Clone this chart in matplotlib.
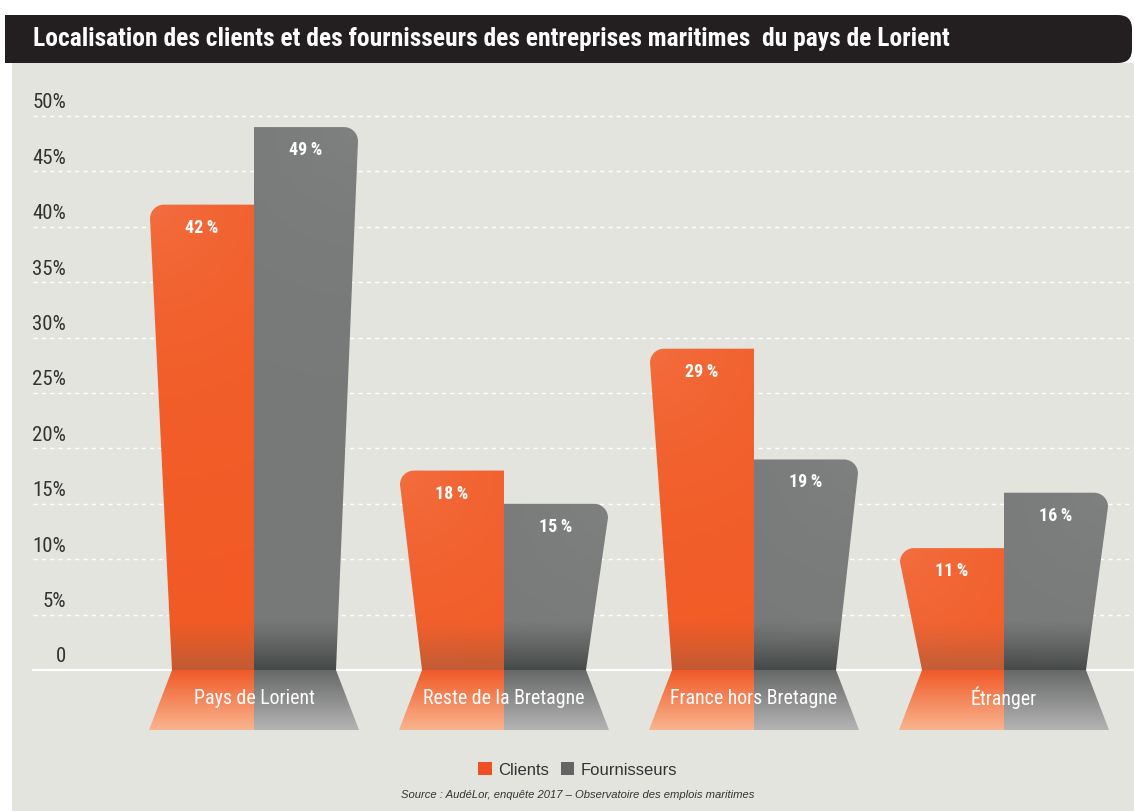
import numpy as np
import matplotlib.pyplot as plt
from matplotlib.patches import Polygon, Rectangle, FancyBboxPatch, Patch
from matplotlib.transforms import Affine2D
from matplotlib.colors import to_rgb

W, H = 1134, 811

categories = ["Pays de Lorient", "Reste de la Bretagne", "France hors Bretagne", "Étranger"]
clients = [42, 18, 29, 11]
fournisseurs = [49, 15, 19, 16]
series_names = ["Clients", "Fournisseurs"]
yticks = [0, 5, 10, 15, 20, 25, 30, 35, 40, 45, 50]
ytick_labels = ["0", "5%", "10%", "15%", "20%", "25%", "30%", "35%", "40%", "45%", "50%"]
title = "Localisation des clients et des fournisseurs des entreprises maritimes  du pays de Lorient"
source = "Source : AudéLor, enquête 2017 – Observatoire des emplois maritimes"

BG = "#e4e4df"
ORANGE = "#f15a25"
GREY = "#777878"
NARROW = ["Roboto Condensed", "Archivo Narrow", "IBM Plex Sans Condensed", "DejaVu Sans"]
PLAIN = ["Liberation Sans", "DejaVu Sans"]

# layout in pixels (measured on the reference)
PANEL_TOP = 63
BASE_PX = 670      # y of 0 %
TOP_PX = 116       # y of 50 %
PANEL_LEFT = 12
FIRST_CENTER = 254
STEP = 250
SY = (BASE_PX - TOP_PX) / 50.0   # px per percentage point
SX = float(STEP)                 # px per category

TOP_HALF = 104     # width of one bar at its top
BOT_HALF = 82      # width of one bar at the baseline
RADIUS = 14
SHADOW = 50        # dark band height at the bottom of the bars
LAB_DEPTH = 60     # depth of the label plate under the baseline
LAB_HALF = 105

fig = plt.figure(figsize=(W / 100, H / 100), dpi=100, facecolor="white")
# (x, y from top) pixel coords -> figure
px = Affine2D().scale(1 / W, -1 / H).translate(0, 1) + fig.transFigure

ax = fig.add_axes([PANEL_LEFT / W, 0, 1 - PANEL_LEFT / W, (H - PANEL_TOP) / H])
ax.set_facecolor(BG)
for s in ax.spines.values():
    s.set_visible(False)
ax.set_xticks([])
ax.set_yticks([])
XLIM = ((PANEL_LEFT - FIRST_CENTER) / SX, (W - FIRST_CENTER) / SX)
YLIM = (-(H - BASE_PX) / SY, (BASE_PX - PANEL_TOP) / SY)


def dx(p):
    return p / SX


def dy(p):
    return p / SY


# grid
gx0 = dx(33 - FIRST_CENTER)
for v in yticks[1:]:
    ax.plot([gx0, XLIM[1]], [v, v], color="white", lw=1, ls=(0, (3, 3)), zorder=1)
ax.plot([gx0, XLIM[1]], [0, 0], color="white", lw=1.6, zorder=1)

for v, lab in zip(yticks, ytick_labels):
    ax.annotate(lab, xy=(dx(66 - FIRST_CENTER), v), xytext=(0, 13), textcoords="offset pixels",
                ha="right", va="center", fontsize=15, color="#333333", family=NARROW)


def bar_outline(c, v, side):
    # side = -1 for the left (orange) bar, +1 for the right (grey) bar
    h = v * SY
    pts = [(0, 0), (side * BOT_HALF, 0)]
    ang = np.linspace(np.pi, np.pi / 2, 16)
    cx, cy = TOP_HALF - RADIUS, h - RADIUS
    for a in ang:
        pts.append((side * (cx - RADIUS * np.cos(a)), cy + RADIUS * np.sin(a)))
    pts.append((0, h))
    return [(c + dx(x), dy(y)) for x, y in pts]


def bar_image(v, color, shade, side, light):
    ny, nx = 300, 80
    h = v * SY
    yy = np.linspace(0, h, ny)[:, None]
    xx = np.linspace(0, TOP_HALF, nx)[None, :]
    base = np.array(to_rgb(color))
    img = np.ones((ny, nx, 3)) * base
    # soft highlight near the outer top corner
    d = np.sqrt((TOP_HALF - xx) ** 2 + (h - yy) ** 2)
    f = light * np.exp(-d / 120.0)
    img = img + (1 - img) * f[..., None]
    # dark band near the baseline
    t = np.clip((SHADOW - yy) / SHADOW, 0, 1) ** 1.2
    t = np.broadcast_to(t, (ny, nx))
    img = img * (1 - 0.55 * t[..., None]) + np.array(to_rgb(shade)) * 0.55 * t[..., None]
    if side < 0:
        img = img[:, ::-1]
    return np.clip(img, 0, 1)


def vgrad(top, bottom, n=100):
    t = np.linspace(0, 1, n)[:, None, None]
    return np.array(to_rgb(bottom)) * (1 - t) + np.array(to_rgb(top)) * t


for i, (cat, vc, vf) in enumerate(zip(categories, clients, fournisseurs)):
    for v, side, col, shade, light in [(vc, -1, ORANGE, "#9a5a40", 0.12),
                                       (vf, 1, GREY, "#1e2222", 0.06)]:
        poly = Polygon(bar_outline(i, v, side), closed=True, transform=ax.transData)
        ext = (i, i + side * dx(TOP_HALF)) if side > 0 else (i - dx(TOP_HALF), i)
        im = ax.imshow(bar_image(v, col, shade, side, light), extent=(ext[0], ext[1], 0, v),
                       origin="lower", aspect="auto", interpolation="bilinear", zorder=2)
        im.set_clip_path(poly)
        ax.annotate(f"{v}\u2009%", xy=(i + side * dx(TOP_HALF / 2), v), xytext=(0, -23),
                    textcoords="offset pixels", ha="center", va="center", color="white",
                    fontsize=13, fontweight="bold", family=NARROW, zorder=4)

    # label plate under the baseline
    for side, top, bottom in [(-1, "#f05a28", "#f9b48f"), (1, "#676868", "#b4b4b4")]:
        pts = [(i, 0), (i + side * dx(BOT_HALF), 0),
               (i + side * dx(LAB_HALF), -dy(LAB_DEPTH)), (i, -dy(LAB_DEPTH))]
        poly = Polygon(pts, closed=True, transform=ax.transData)
        x0, x1 = sorted([i, i + side * dx(LAB_HALF)])
        im = ax.imshow(vgrad(top, bottom), extent=(x0, x1, -dy(LAB_DEPTH), 0), origin="lower",
                       aspect="auto", interpolation="bilinear", zorder=2)
        im.set_clip_path(poly)
    ax.annotate(cat, xy=(i, 0), xytext=(0, -28), textcoords="offset pixels", ha="center",
                va="center", color="white", fontsize=14.3, family=NARROW, zorder=4)

ax.set_xlim(*XLIM)
ax.set_ylim(*YLIM)

# title bar
fig.patches.append(FancyBboxPatch((5, 15), 1127, 48, boxstyle="round,pad=0,rounding_size=14",
                                  transform=px, facecolor="#231f20", edgecolor="none"))
fig.patches.append(Rectangle((5, 15), 600, 48, transform=px, facecolor="#231f20", edgecolor="none"))
fig.text(33 / W, 1 - 39 / H, title, ha="left", va="center", color="white", fontsize=18.4,
         fontweight="bold", family=NARROW)

handles = [Patch(facecolor="#f04e23", edgecolor="none"), Patch(facecolor="#646464", edgecolor="none")]
fig.legend(handles, series_names, loc="center", bbox_to_anchor=(578 / W, 1 - 770 / H), ncol=2,
           frameon=False, handlelength=0.8, handleheight=0.8, handletextpad=0.4, columnspacing=0.7,
           prop={"family": PLAIN, "size": 12}, labelcolor="#333333")

fig.text(578 / W, 1 - 795 / H, source, ha="center", va="center", style="italic", fontsize=8.1,
         color="#333333", family=PLAIN)

fig.savefig("out.png", dpi=100, facecolor="white")
